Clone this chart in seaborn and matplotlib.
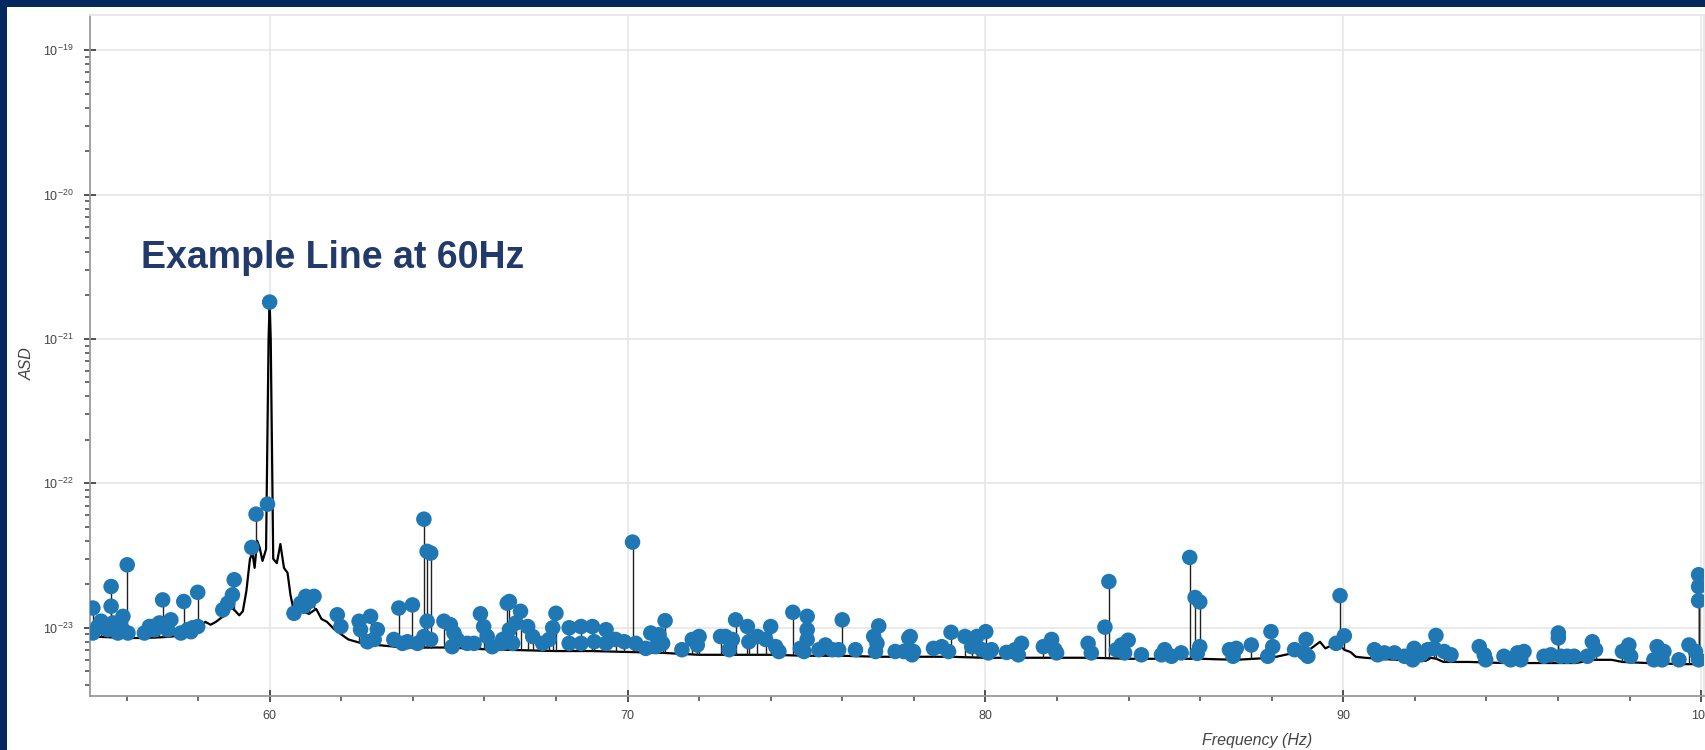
import numpy as np
import pandas as pd
import matplotlib
matplotlib.use("Agg")
import matplotlib.pyplot as plt
import matplotlib.patches as mpatches
from matplotlib.ticker import LogLocator, MultipleLocator, NullFormatter
import seaborn as sns

# ---------------- data ----------------
line_freq = [55.0, 55.5, 56.0, 56.5, 57.0, 57.5, 57.9, 58.1, 58.2, 58.35, 58.5, 58.7, 58.9,
             59.05, 59.15, 59.25, 59.35, 59.45, 59.52, 59.58, 59.65, 59.72, 59.8, 59.9,
             59.97, 60.0, 60.03, 60.1, 60.2, 60.3, 60.4, 60.5, 60.58, 60.65, 60.75, 60.9,
             61.1, 61.3, 61.45, 61.6, 61.8, 62.0, 62.2, 62.5, 63.0, 63.5, 64.0, 65.0, 66.0,
             67.0, 68.0, 69.0, 70.0, 71.0, 72.0, 73.0, 74.0, 75.0, 76.0, 77.0, 78.0, 79.0,
             80.0, 81.0, 82.0, 83.0, 84.0, 85.0, 86.0, 87.0, 88.0, 88.5, 88.8, 89.0, 89.2,
             89.35, 89.5, 89.6, 89.75, 89.9, 90.05, 90.2, 90.35, 90.6, 91.0, 91.5, 92.0,
             92.3, 92.45, 92.6, 92.8, 93.5, 94.5, 95.5, 96.5, 97.0, 97.5, 97.8, 98.5, 99.5,
             100.0, 100.2]
line_asd = [8.7e-24, 8.6e-24, 8.5e-24, 8.5e-24, 8.6e-24, 8.8e-24, 9.2e-24, 1.02e-23, 1.1e-23,
            1.05e-23, 1.1e-23, 1.2e-23, 1.4e-23, 1.3e-23, 1.22e-23, 1.3e-23, 1.8e-23, 3.0e-23,
            3.3e-23, 2.6e-23, 4.0e-23, 3.6e-23, 2.9e-23, 3.5e-23, 1.0e-21, 1.8e-21, 1.0e-21,
            3.0e-23, 2.8e-23, 3.8e-23, 2.6e-23, 2.4e-23, 1.7e-23, 1.4e-23, 1.25e-23, 1.3e-23,
            1.25e-23, 1.35e-23, 1.15e-23, 1.1e-23, 9.8e-24, 9.0e-24, 8.3e-24, 7.9e-24, 7.6e-24,
            7.4e-24, 7.3e-24, 7.3e-24, 7.1e-24, 7.0e-24, 6.9e-24, 6.9e-24, 6.8e-24, 6.7e-24,
            6.5e-24, 6.5e-24, 6.5e-24, 6.4e-24, 6.4e-24, 6.3e-24, 6.3e-24, 6.3e-24, 6.2e-24,
            6.2e-24, 6.2e-24, 6.2e-24, 6.1e-24, 6.1e-24, 6.1e-24, 6.0e-24, 6.2e-24, 6.6e-24,
            6.7e-24, 6.9e-24, 7.5e-24, 8.0e-24, 7.2e-24, 7.4e-24, 7.7e-24, 7.5e-24, 7.0e-24,
            6.8e-24, 6.3e-24, 6.2e-24, 6.1e-24, 6.0e-24, 5.9e-24, 5.9e-24, 6.2e-24, 6.1e-24,
            5.8e-24, 5.8e-24, 5.7e-24, 5.7e-24, 5.7e-24, 6.0e-24, 6.0e-24, 5.8e-24, 5.7e-24,
            5.6e-24, 5.6e-24, 5.6e-24]

peak_freq = [
    55.06, 55.06, 55.29, 55.57, 55.57, 55.62, 55.85, 55.90, 56.02, 56.04, 55.48, 55.76, 55.20, 55.38,
    56.50, 56.64, 56.78, 56.92, 57.01, 57.11, 57.24, 56.73, 57.15,
    57.52, 57.60, 57.71, 57.85, 57.99, 57.99, 57.80,
    58.69, 58.83, 58.96, 59.01, 59.50, 59.62, 59.94, 60.00,
    60.68, 60.87, 61.01, 61.24, 60.96, 61.10,
    61.89, 61.99, 62.50, 62.54, 62.82, 63.01, 62.92, 62.73,
    63.47, 63.61, 63.71, 63.99, 63.85, 64.13,
    64.31, 64.40, 64.50, 64.40, 64.31, 64.50,
    64.87, 65.05, 65.15, 65.24, 65.10, 65.52, 65.71,
    65.89, 65.98, 66.08, 66.22, 66.50, 66.64,
    66.70, 66.70, 67.01, 66.88, 67.21, 66.51, 66.79, 67.35, 67.63, 68.00, 67.91, 67.81,
    68.37, 68.37, 68.70, 68.70, 69.02, 69.07, 69.40, 69.40, 69.67, 69.91, 70.14, 70.23,
    70.51, 70.65, 70.88, 71.05, 70.98, 70.79,
    71.52, 71.81, 72.00, 71.95, 72.60, 72.74, 72.84, 73.02, 72.93, 73.35, 73.39, 73.63,
    74.00, 73.86, 74.14, 74.23, 74.62, 74.83, 75.02, 75.02, 75.02, 74.93, 75.35, 75.53,
    75.72, 76.00, 75.90, 76.37, 76.88, 77.02, 76.97, 76.93, 77.48, 77.72, 77.86, 77.95,
    77.90, 77.99, 78.55, 78.78, 78.97, 79.04, 79.43, 79.62, 79.76, 80.01, 79.90, 80.17,
    80.08, 80.59, 80.83, 81.01, 80.92, 81.62, 81.85, 81.94, 81.99, 82.87, 82.96,
    83.34, 83.45, 83.66, 83.80, 83.99, 83.89, 84.36, 84.92, 85.01, 85.20, 85.47,
    85.71, 85.86, 85.99, 85.99, 85.92, 86.82, 87.01, 86.92, 87.43, 87.98, 88.03, 87.89,
    88.64, 88.96, 88.91, 89.01,
    89.80, 89.91, 90.03, 90.87, 90.96, 91.15, 91.43, 91.71, 91.94, 91.98, 92.17, 92.36,
    92.54, 92.59, 92.82, 93.01, 93.80, 93.94, 93.98, 94.49, 94.68, 94.87, 95.05, 94.96,
    95.61, 95.80, 96.01, 96.01, 96.08, 96.26, 96.45, 96.82, 96.96, 97.05, 97.80, 97.98,
    98.03, 98.77, 98.96, 98.68, 98.91, 99.38, 99.66, 99.84, 99.93, 99.93, 99.93, 99.93]
peak_asd = [
    1.37e-23, 9.2e-24, 1.11e-23, 1.93e-23, 1.41e-23, 1.08e-23, 1.02e-23, 1.20e-23, 2.73e-23, 9.2e-24, 9.7e-24, 9.2e-24, 1.02e-23, 1.0e-23,
    9.2e-24, 1.02e-23, 9.7e-24, 1.08e-23, 1.56e-23, 1.05e-23, 1.135e-23, 1.02e-23, 9.7e-24,
    9.2e-24, 1.52e-23, 9.7e-24, 1.0e-23, 1.76e-23, 1.02e-23, 9.4e-24,
    1.33e-23, 1.48e-23, 1.69e-23, 2.15e-23, 3.6e-23, 6.12e-23, 7.18e-23, 1.8e-21,
    1.26e-23, 1.48e-23, 1.65e-23, 1.65e-23, 1.41e-23, 1.52e-23,
    1.23e-23, 1.02e-23, 1.11e-23, 9.7e-24, 1.20e-23, 9.7e-24, 8.3e-24, 8.0e-24,
    8.3e-24, 1.37e-23, 7.8e-24, 1.44e-23, 8.0e-24, 7.8e-24,
    5.65e-23, 3.38e-23, 3.29e-23, 1.11e-23, 8.7e-24, 8.3e-24,
    1.11e-23, 1.05e-23, 9.2e-24, 8.3e-24, 7.4e-24, 7.8e-24, 7.8e-24,
    1.25e-23, 1.02e-23, 8.7e-24, 7.4e-24, 7.8e-24, 1.48e-23,
    1.52e-23, 9.7e-24, 1.30e-23, 1.08e-23, 1.02e-23, 8.3e-24, 7.8e-24, 8.7e-24, 7.8e-24, 1.26e-23, 1.0e-23, 8.3e-24,
    1.0e-23, 7.8e-24, 1.02e-23, 7.8e-24, 1.02e-23, 8.0e-24, 9.7e-24, 7.8e-24, 8.3e-24, 8.0e-24, 3.92e-23, 7.8e-24,
    7.2e-24, 9.2e-24, 8.95e-24, 1.12e-23, 7.8e-24, 7.4e-24,
    7.05e-24, 8.3e-24, 8.7e-24, 7.6e-24, 8.7e-24, 8.7e-24, 7.05e-24, 1.135e-23, 8.3e-24, 1.02e-23, 8.0e-24, 8.7e-24,
    1.02e-23, 8.3e-24, 7.4e-24, 6.85e-24, 1.28e-23, 7.2e-24, 1.20e-23, 9.7e-24, 8.3e-24, 6.85e-24, 7.05e-24, 7.6e-24,
    7.05e-24, 1.135e-23, 7.05e-24, 7.05e-24, 8.7e-24, 1.03e-23, 7.8e-24, 6.85e-24, 6.85e-24, 6.85e-24, 8.5e-24, 6.5e-24,
    8.7e-24, 6.85e-24, 7.2e-24, 7.4e-24, 6.85e-24, 9.3e-24, 8.7e-24, 7.4e-24, 8.7e-24, 9.4e-24, 7.05e-24, 7.05e-24,
    6.7e-24, 6.75e-24, 7.05e-24, 7.8e-24, 6.5e-24, 7.4e-24, 8.3e-24, 7.05e-24, 6.7e-24, 7.8e-24, 6.7e-24,
    1.01e-23, 2.09e-23, 7.05e-24, 7.6e-24, 8.2e-24, 6.7e-24, 6.5e-24, 6.5e-24, 7.05e-24, 6.35e-24, 6.7e-24,
    3.07e-23, 1.62e-23, 1.51e-23, 7.4e-24, 6.65e-24, 7.05e-24, 7.2e-24, 6.35e-24, 7.6e-24, 9.4e-24, 7.4e-24, 6.35e-24,
    7.05e-24, 8.3e-24, 6.7e-24, 6.35e-24,
    7.8e-24, 1.67e-23, 8.8e-24, 7.05e-24, 6.5e-24, 6.7e-24, 6.7e-24, 6.35e-24, 6.0e-24, 7.2e-24, 6.5e-24, 7.05e-24,
    7.2e-24, 8.85e-24, 6.85e-24, 6.5e-24, 7.4e-24, 6.5e-24, 6.0e-24, 6.35e-24, 6.0e-24, 6.7e-24, 6.85e-24, 6.0e-24,
    6.35e-24, 6.5e-24, 9.2e-24, 8.5e-24, 6.35e-24, 6.35e-24, 6.35e-24, 6.35e-24, 8.0e-24, 7.05e-24, 6.85e-24, 7.6e-24,
    6.35e-24, 7.4e-24, 6.85e-24, 6.0e-24, 6.0e-24, 6.0e-24, 7.6e-24, 6.85e-24, 2.33e-23, 1.93e-23, 1.54e-23, 6.0e-24]

x_ticks = [60, 70, 80, 90, 100]
title_text = "Example Line at 60Hz"
x_label = "Frequency (Hz)"
y_label = "ASD"

# ---------------- style ----------------
sns.set_style("white")
plt.rcParams["font.family"] = ["Liberation Sans", "DejaVu Sans"]
plt.rcParams["mathtext.fontset"] = "custom"
plt.rcParams["mathtext.rm"] = "Liberation Sans"
plt.rcParams["mathtext.it"] = "Liberation Sans:italic"
plt.rcParams["mathtext.bf"] = "Liberation Sans:bold"

NAVY = "#03285e"
BLUE = "#1f77b4"
W, H = 1706, 750

fig = plt.figure(figsize=(W / 100, H / 100), dpi=100)
fig.patch.set_facecolor(NAVY)
fig.patches.append(mpatches.Rectangle((7 / W, 0), 1 - 7 / W, 1 - 7 / H,
                                      transform=fig.transFigure, facecolor="white",
                                      edgecolor="none", zorder=-10))

ax = fig.add_axes([90 / W, 54 / H, 1614 / W, 681 / H])
ax.set_zorder(1)
ax.set_facecolor("white")

line_df = pd.DataFrame({"freq": line_freq, "asd": line_asd})
peak_df = pd.DataFrame({"freq": peak_freq, "asd": peak_asd})

sns.lineplot(data=line_df, x="freq", y="asd", ax=ax, color="black", lw=1.6,
             estimator=None, sort=True, zorder=3)

# stems from the spectrum up to each flagged line
base = 10 ** np.interp(peak_df["freq"], line_df["freq"], np.log10(line_df["asd"]))
ax.vlines(peak_df["freq"], np.minimum(base, peak_df["asd"]), peak_df["asd"],
          color="#222222", lw=1.0, zorder=3.5)

sns.scatterplot(data=peak_df, x="freq", y="asd", ax=ax, color=BLUE, s=125,
                linewidth=0, edgecolor="none", zorder=4)

ax.set_yscale("log")
ax.set_xlim(54.98, 100.08)
ax.set_ylim(3.37e-24, 1.75e-19)

ax.set_xticks(x_ticks)
ax.xaxis.set_minor_locator(MultipleLocator(2))
ax.yaxis.set_major_locator(LogLocator(base=10, numticks=20))
ax.yaxis.set_minor_locator(LogLocator(base=10, subs=np.arange(2, 10), numticks=50))
ax.yaxis.set_minor_formatter(NullFormatter())

ax.grid(True, which="major", color="#e6e6e6", lw=1.2)
ax.set_axisbelow(True)
ax.tick_params(axis="both", which="both", bottom=True, left=True, top=False, right=False)
ax.tick_params(axis="both", which="major", direction="inout", length=8, width=1.3,
               color="#444444", labelcolor="#444444", labelsize=9)
ax.tick_params(axis="both", which="minor", direction="out", length=3.5, width=1.1,
               color="#444444")
ax.tick_params(axis="x", which="major", pad=6)
ax.tick_params(axis="y", which="major", pad=8)

for s in ["left", "bottom"]:
    ax.spines[s].set_color("#9a9a9a")
    ax.spines[s].set_linewidth(1.3)
for s in ["top", "right"]:
    ax.spines[s].set_color("#e6e6e6")
    ax.spines[s].set_linewidth(1.3)

ax.set_xlabel("")
ax.set_ylabel("")
fig.text(1257 / W, 1 - 741 / H, x_label, style="italic", fontsize=11.5, color="#444444",
         ha="center", va="center")
fig.text(27 / W, 1 - 364 / H, y_label, style="italic", fontsize=11.5, color="#444444",
         ha="center", va="center", rotation=90)

fig.text(141 / W, 1 - 258 / H, title_text, fontsize=27, fontweight="bold",
         color="#22396b", ha="left", va="center", zorder=5)

fig.savefig("out.png", dpi=100, facecolor=fig.get_facecolor())
